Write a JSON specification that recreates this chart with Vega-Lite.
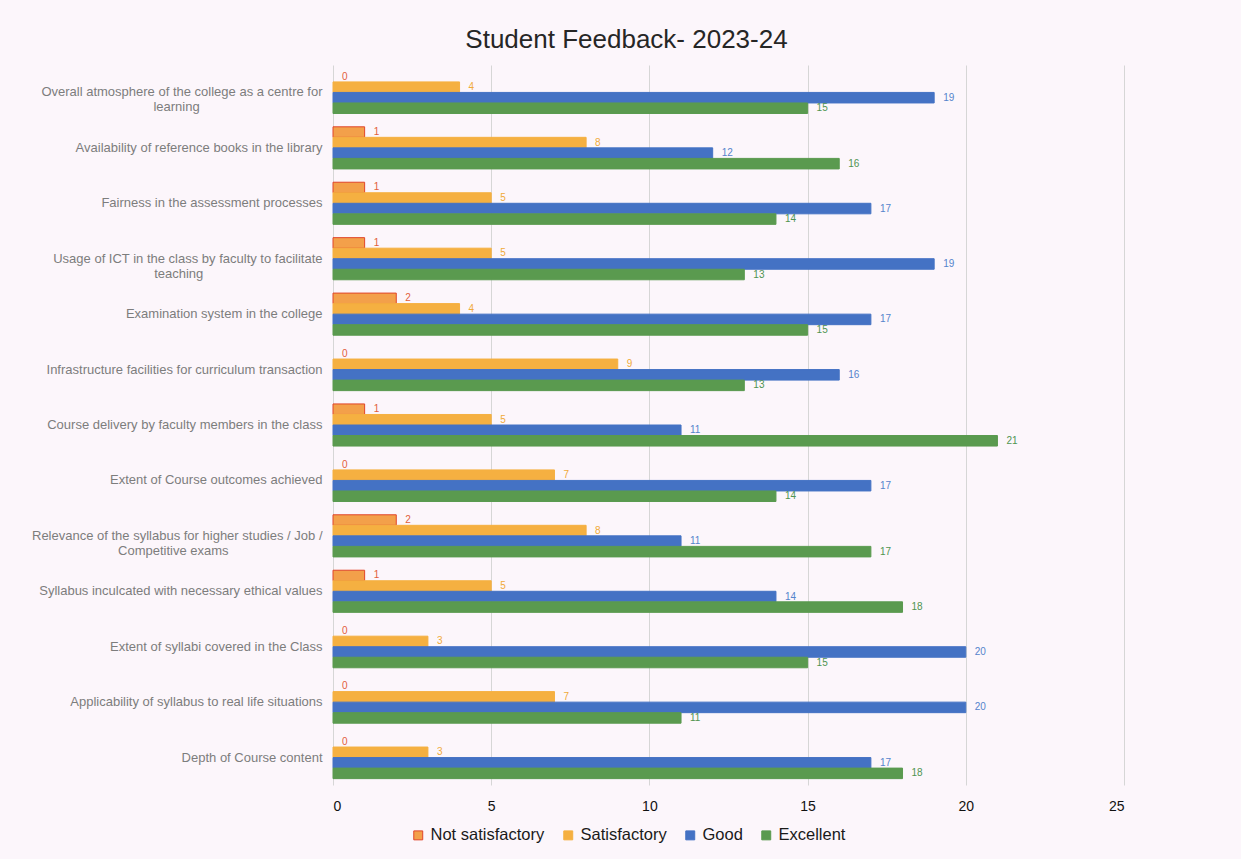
{
  "$schema": "https://vega.github.io/schema/vega-lite/v6.json",
  "width": 791,
  "height": 720,
  "autosize": {"type": "none"},
  "padding": {"left": 333, "top": 65, "right": 117, "bottom": 74},
  "background": "#FCF6FB",
  "title": {
    "text": "Student Feedback- 2023-24",
    "font": "Liberation Sans",
    "fontSize": 26,
    "fontWeight": "normal",
    "color": "#262626",
    "anchor": "middle",
    "dx": -102,
    "offset": 12
  },
  "config": {
    "view": {"stroke": null},
    "font": "Liberation Sans"
  },
  "data": {
    "values": [
      {"q": "Overall atmosphere of the college as a centre for learning", "rating": "Not satisfactory", "value": 0},
      {"q": "Overall atmosphere of the college as a centre for learning", "rating": "Satisfactory", "value": 4},
      {"q": "Overall atmosphere of the college as a centre for learning", "rating": "Good", "value": 19},
      {"q": "Overall atmosphere of the college as a centre for learning", "rating": "Excellent", "value": 15},
      {"q": "Availability of reference books in the library", "rating": "Not satisfactory", "value": 1},
      {"q": "Availability of reference books in the library", "rating": "Satisfactory", "value": 8},
      {"q": "Availability of reference books in the library", "rating": "Good", "value": 12},
      {"q": "Availability of reference books in the library", "rating": "Excellent", "value": 16},
      {"q": "Fairness in the assessment processes", "rating": "Not satisfactory", "value": 1},
      {"q": "Fairness in the assessment processes", "rating": "Satisfactory", "value": 5},
      {"q": "Fairness in the assessment processes", "rating": "Good", "value": 17},
      {"q": "Fairness in the assessment processes", "rating": "Excellent", "value": 14},
      {"q": "Usage of ICT in the class by faculty to facilitate teaching", "rating": "Not satisfactory", "value": 1},
      {"q": "Usage of ICT in the class by faculty to facilitate teaching", "rating": "Satisfactory", "value": 5},
      {"q": "Usage of ICT in the class by faculty to facilitate teaching", "rating": "Good", "value": 19},
      {"q": "Usage of ICT in the class by faculty to facilitate teaching", "rating": "Excellent", "value": 13},
      {"q": "Examination system in the college", "rating": "Not satisfactory", "value": 2},
      {"q": "Examination system in the college", "rating": "Satisfactory", "value": 4},
      {"q": "Examination system in the college", "rating": "Good", "value": 17},
      {"q": "Examination system in the college", "rating": "Excellent", "value": 15},
      {"q": "Infrastructure facilities for curriculum transaction", "rating": "Not satisfactory", "value": 0},
      {"q": "Infrastructure facilities for curriculum transaction", "rating": "Satisfactory", "value": 9},
      {"q": "Infrastructure facilities for curriculum transaction", "rating": "Good", "value": 16},
      {"q": "Infrastructure facilities for curriculum transaction", "rating": "Excellent", "value": 13},
      {"q": "Course delivery by faculty members in the class", "rating": "Not satisfactory", "value": 1},
      {"q": "Course delivery by faculty members in the class", "rating": "Satisfactory", "value": 5},
      {"q": "Course delivery by faculty members in the class", "rating": "Good", "value": 11},
      {"q": "Course delivery by faculty members in the class", "rating": "Excellent", "value": 21},
      {"q": "Extent of Course outcomes achieved", "rating": "Not satisfactory", "value": 0},
      {"q": "Extent of Course outcomes achieved", "rating": "Satisfactory", "value": 7},
      {"q": "Extent of Course outcomes achieved", "rating": "Good", "value": 17},
      {"q": "Extent of Course outcomes achieved", "rating": "Excellent", "value": 14},
      {"q": "Relevance of the syllabus for higher studies / Job / Competitive exams", "rating": "Not satisfactory", "value": 2},
      {"q": "Relevance of the syllabus for higher studies / Job / Competitive exams", "rating": "Satisfactory", "value": 8},
      {"q": "Relevance of the syllabus for higher studies / Job / Competitive exams", "rating": "Good", "value": 11},
      {"q": "Relevance of the syllabus for higher studies / Job / Competitive exams", "rating": "Excellent", "value": 17},
      {"q": "Syllabus inculcated with necessary ethical values", "rating": "Not satisfactory", "value": 1},
      {"q": "Syllabus inculcated with necessary ethical values", "rating": "Satisfactory", "value": 5},
      {"q": "Syllabus inculcated with necessary ethical values", "rating": "Good", "value": 14},
      {"q": "Syllabus inculcated with necessary ethical values", "rating": "Excellent", "value": 18},
      {"q": "Extent of syllabi covered in the Class", "rating": "Not satisfactory", "value": 0},
      {"q": "Extent of syllabi covered in the Class", "rating": "Satisfactory", "value": 3},
      {"q": "Extent of syllabi covered in the Class", "rating": "Good", "value": 20},
      {"q": "Extent of syllabi covered in the Class", "rating": "Excellent", "value": 15},
      {"q": "Applicability of syllabus to real life situations", "rating": "Not satisfactory", "value": 0},
      {"q": "Applicability of syllabus to real life situations", "rating": "Satisfactory", "value": 7},
      {"q": "Applicability of syllabus to real life situations", "rating": "Good", "value": 20},
      {"q": "Applicability of syllabus to real life situations", "rating": "Excellent", "value": 11},
      {"q": "Depth of Course content", "rating": "Not satisfactory", "value": 0},
      {"q": "Depth of Course content", "rating": "Satisfactory", "value": 3},
      {"q": "Depth of Course content", "rating": "Good", "value": 17},
      {"q": "Depth of Course content", "rating": "Excellent", "value": 18}
    ]
  },
  "encoding": {
    "y": {
      "field": "q",
      "type": "nominal",
      "sort": [
        "Overall atmosphere of the college as a centre for learning",
        "Availability of reference books in the library",
        "Fairness in the assessment processes",
        "Usage of ICT in the class by faculty to facilitate teaching",
        "Examination system in the college",
        "Infrastructure facilities for curriculum transaction",
        "Course delivery by faculty members in the class",
        "Extent of Course outcomes achieved",
        "Relevance of the syllabus for higher studies / Job / Competitive exams",
        "Syllabus inculcated with necessary ethical values",
        "Extent of syllabi covered in the Class",
        "Applicability of syllabus to real life situations",
        "Depth of Course content"
      ],
      "scale": {"paddingInner": 0.24, "paddingOuter": 0.115},
      "axis": {
        "title": null,
        "ticks": false,
        "domain": false,
        "labelPadding": 11,
        "labelFontSize": 13,
        "labelFont": "Liberation Sans",
        "labelColor": "#7d7d7d",
        "labelLineHeight": 15,
        "labelLimit": 0,
        "labelExpr": "datum.label == 'Overall atmosphere of the college as a centre for learning' ? ['Overall atmosphere of the college as a centre for', pad('learning', 42, '\u00a0', 'right') + '\u200b'] : datum.label == 'Usage of ICT in the class by faculty to facilitate teaching' ? ['Usage of ICT in the class by faculty to facilitate', pad('teaching', 41, '\u00a0', 'right') + '\u200b'] : datum.label == 'Relevance of the syllabus for higher studies / Job / Competitive exams' ? ['Relevance of the syllabus for higher studies / Job /', pad('Competitive exams', 43, '\u00a0', 'right') + '\u200b'] : datum.label"
      }
    },
    "x": {
      "field": "value",
      "type": "quantitative",
      "scale": {"domain": [0, 25], "nice": false},
      "axis": {
        "title": null,
        "ticks": false,
        "domain": false,
        "values": [0, 5, 10, 15, 20, 25],
        "grid": true,
        "gridColor": "#d6d6d6",
        "gridWidth": 1,
        "labelFontSize": 14,
        "labelFont": "Liberation Sans",
        "labelColor": "#111111",
        "labelPadding": 14
      }
    },
    "yOffset": {
      "field": "rating",
      "type": "nominal",
      "sort": ["Not satisfactory", "Satisfactory", "Good", "Excellent"],
      "scale": {"paddingInner": 0, "paddingOuter": 0}
    }
  },
  "layer": [
    {
      "mark": {"type": "bar", "strokeWidth": 1},
      "encoding": {
        "strokeOpacity": {"condition": {"test": "datum.value == 0", "value": 0}, "value": 1},
        "color": {
          "field": "rating",
          "type": "nominal",
          "sort": ["Not satisfactory", "Satisfactory", "Good", "Excellent"],
          "scale": {
            "domain": ["Not satisfactory", "Satisfactory", "Good", "Excellent"],
            "range": ["#F3A04A", "#F5B041", "#4472C4", "#5A9A4F"]
          },
          "legend": {
            "orient": "none",
            "direction": "horizontal",
            "legendX": 77,
            "legendY": 762,
            "title": null,
            "symbolType": "square",
            "symbolSize": 80,
            "symbolStrokeWidth": 1,
            "labelFontSize": 16.5,
            "labelFont": "Liberation Sans",
            "labelColor": "#1a1a1a",
            "labelOffset": 4,
            "columnPadding": 15,
            "padding": 0
          }
        },
        "stroke": {
          "field": "rating",
          "type": "nominal",
          "sort": ["Not satisfactory", "Satisfactory", "Good", "Excellent"],
          "scale": {
            "domain": ["Not satisfactory", "Satisfactory", "Good", "Excellent"],
            "range": ["#E0452A", "#F5B041", "#4472C4", "#5A9A4F"]
          },
          "legend": {
            "orient": "none",
            "direction": "horizontal",
            "legendX": 77,
            "legendY": 762,
            "title": null,
            "symbolType": "square",
            "symbolSize": 80,
            "symbolStrokeWidth": 1,
            "labelFontSize": 16.5,
            "labelFont": "Liberation Sans",
            "labelColor": "#1a1a1a",
            "labelOffset": 4,
            "columnPadding": 15,
            "padding": 0
          }
        }
      }
    },
    {
      "mark": {"type": "text", "align": "left", "baseline": "middle", "dx": 9, "fontSize": 10, "font": "Liberation Sans"},
      "encoding": {
        "text": {"field": "value", "type": "quantitative"},
        "fill": {
          "field": "rating",
          "type": "nominal",
          "scale": {
            "domain": ["Not satisfactory", "Satisfactory", "Good", "Excellent"],
            "range": ["#E2603C", "#F0AA38", "#5584CC", "#4F9450"]
          },
          "legend": null
        }
      }
    }
  ]
}
